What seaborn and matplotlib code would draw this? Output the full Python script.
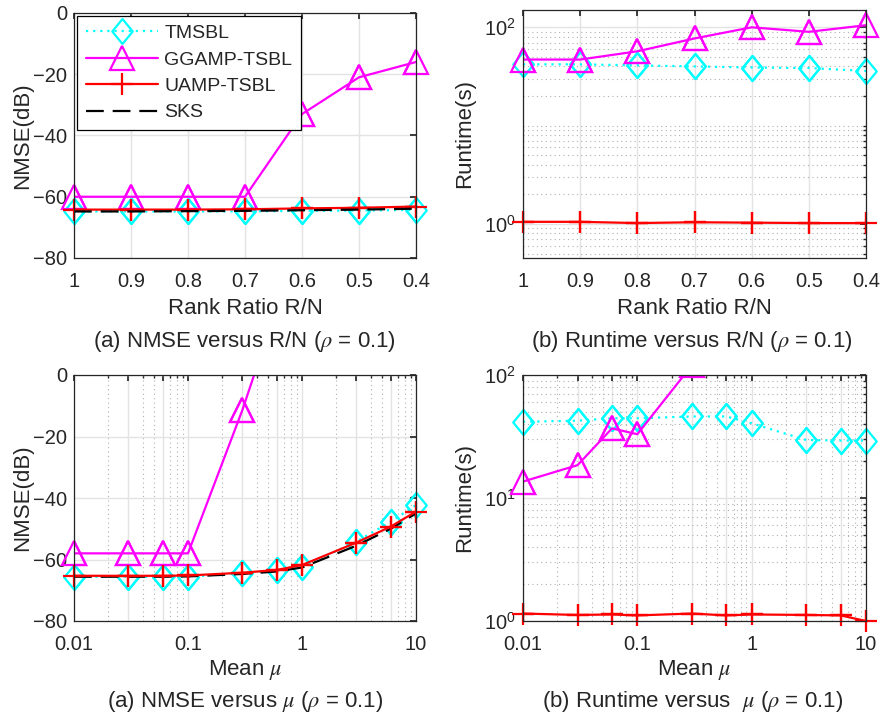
import numpy as np
import pandas as pd
import matplotlib
matplotlib.use("Agg")
import matplotlib.pyplot as plt
import matplotlib.ticker as mticker
from matplotlib.path import Path
import seaborn as sns

# ---------------- data ----------------
rank_ratio = [1.0, 0.9, 0.8, 0.7, 0.6, 0.5, 0.4]
nmse_r_tmsbl = [-64.8, -64.8, -64.8, -64.8, -64.6, -64.5, -64.3]
nmse_r_ggamp = [-60.0, -60.0, -60.0, -60.0, -33.0, -21.0, -16.0]
nmse_r_uamp = [-64.2, -64.2, -64.2, -64.1, -63.8, -63.6, -63.2]
nmse_r_sks = [-64.8, -64.8, -64.7, -64.6, -64.4, -64.2, -63.9]

time_r_tmsbl = [42.0, 42.0, 41.0, 40.0, 39.0, 38.5, 36.0]
time_r_ggamp = [47.0, 47.0, 57.0, 77.0, 100.0, 90.0, 105.0]
time_r_uamp = [1.05, 1.05, 1.02, 1.04, 1.03, 1.02, 1.02]

mu = [0.01, 0.03, 0.06, 0.1, 0.3, 0.6, 1.0, 3.0, 6.0, 10.0]
nmse_m_tmsbl = [-65.6, -65.6, -65.6, -65.6, -64.5, -63.4, -62.5, -54.2, -47.7, -42.3]
nmse_m_uamp = [-65.3, -65.3, -65.3, -65.2, -64.3, -63.4, -61.8, -54.5, -49.3, -44.4]
nmse_m_sks = [-65.6, -65.6, -65.6, -65.5, -64.7, -63.9, -62.6, -55.5, -50.0, -45.0]
mu_gg_nmse = [0.01, 0.03, 0.06, 0.1, 0.3, 0.6]
nmse_m_ggamp = [-58.0, -58.0, -58.0, -58.0, -11.4, 22.0]

time_m_tmsbl = [41.7, 42.5, 44.5, 44.5, 46.0, 46.0, 40.5, 29.6, 29.3, 29.3]
time_m_uamp = [1.15, 1.12, 1.13, 1.11, 1.15, 1.11, 1.13, 1.12, 1.11, 1.0]
mu_gg_time = [0.01, 0.03, 0.06, 0.1, 0.3]
time_m_ggamp = [13.6, 18.5, 36.8, 33.0, 120.0]

labels = ["TMSBL", "GGAMP-TSBL", "UAMP-TSBL", "SKS"]

# ---------------- style ----------------
sns.set_theme(style="white")
plt.rcParams["font.family"] = ["Liberation Sans", "DejaVu Sans"]
plt.rcParams["mathtext.fontset"] = "stix"
plt.rcParams["mathtext.default"] = "regular"
FS_TICK = 14.5
FS_LAB = 16
FS_LEG = 14
TXT = "#262626"

W, H = 880, 717
fig = plt.figure(figsize=(W / 100, H / 100), dpi=100)


def ax_at(l, t, r, b):
    return fig.add_axes([l / W, 1 - b / H, (r - l) / W, (b - t) / H])


ax_tl = ax_at(74, 13, 416, 258)
ax_tr = ax_at(523, 10, 866, 258)
ax_bl = ax_at(74, 375, 416, 621)
ax_br = ax_at(523, 375, 866, 621)

LIMS = {ax_tl: (-80, 0), ax_tr: (0.45, 150), ax_bl: (-80, 0), ax_br: (1, 100)}

diamond = Path([(0, 1), (0.82, 0), (0, -1), (-0.82, 0), (0, 1)],
               [Path.MOVETO, Path.LINETO, Path.LINETO, Path.LINETO, Path.CLOSEPOLY])

styles = {
    "TMSBL": dict(color=(0, 1, 1), linestyle=(0, (1, 2.2)), marker=diamond, markersize=18),
    "GGAMP-TSBL": dict(color=(1, 0, 1), linestyle="-", marker="^", markersize=17),
    "UAMP-TSBL": dict(color=(1, 0, 0), linestyle="-", marker="+", markersize=16),
    "SKS": dict(color="black", linestyle=(0, (8, 4)), marker=None),
}


def draw(ax, x, y, name):
    st = dict(styles[name])
    color = st.pop("color")
    df = pd.DataFrame({"x": x, "y": y})
    sns.lineplot(data=df, x="x", y="y", ax=ax, color=color, linewidth=1.6,
                 markerfacecolor="none", markeredgecolor=color, markeredgewidth=1.6,
                 label=name, sort=False, estimator=None, **st)
    if st.get("marker") is not None:
        lo, hi = LIMS[ax]
        dfin = df[(df["y"] >= lo) & (df["y"] <= hi)]
        sns.lineplot(data=dfin, x="x", y="y", ax=ax, color=color, linestyle="none",
                     marker=st["marker"], markersize=st["markersize"],
                     markerfacecolor="none", markeredgecolor=color, markeredgewidth=1.6,
                     sort=False, estimator=None, clip_on=False, legend=False)


draw(ax_tl, rank_ratio, nmse_r_tmsbl, "TMSBL")
draw(ax_tl, rank_ratio, nmse_r_ggamp, "GGAMP-TSBL")
draw(ax_tl, rank_ratio, nmse_r_uamp, "UAMP-TSBL")
draw(ax_tl, rank_ratio, nmse_r_sks, "SKS")

draw(ax_tr, rank_ratio, time_r_tmsbl, "TMSBL")
draw(ax_tr, rank_ratio, time_r_ggamp, "GGAMP-TSBL")
draw(ax_tr, rank_ratio, time_r_uamp, "UAMP-TSBL")

draw(ax_bl, mu, nmse_m_tmsbl, "TMSBL")
draw(ax_bl, mu_gg_nmse, nmse_m_ggamp, "GGAMP-TSBL")
draw(ax_bl, mu, nmse_m_sks, "SKS")
draw(ax_bl, mu, nmse_m_uamp, "UAMP-TSBL")

draw(ax_br, mu, time_m_tmsbl, "TMSBL")
draw(ax_br, mu_gg_time, time_m_ggamp, "GGAMP-TSBL")
draw(ax_br, mu, time_m_uamp, "UAMP-TSBL")


def common(ax):
    for s in ax.spines.values():
        s.set_color(TXT)
        s.set_linewidth(0.9)
        s.set_visible(True)
    ax.tick_params(axis="both", which="both", direction="in", colors=TXT,
                   labelsize=FS_TICK, top=True, right=True)
    ax.tick_params(which="major", length=4)
    ax.tick_params(which="minor", length=2)
    ax.tick_params(axis="x", which="major", pad=10)
    ax.tick_params(axis="y", which="major", pad=5)
    ax.set_axisbelow(True)
    ax.set_xlabel("")
    ax.set_ylabel("")


for ax in (ax_tl, ax_tr, ax_bl, ax_br):
    common(ax)
    if ax.get_legend() is not None:
        ax.get_legend().remove()

MAJ = dict(color="#e3e3e3", linewidth=1.0, linestyle="-")
MIN = dict(color="#b0b0b0", linewidth=0.8, linestyle=(0, (1, 3)))

# top-left
ax_tl.set_xlim(1.0, 0.4)
ax_tl.set_xticks(rank_ratio)
ax_tl.set_xticklabels(["1", "0.9", "0.8", "0.7", "0.6", "0.5", "0.4"])
ax_tl.set_ylim(*LIMS[ax_tl])
ax_tl.set_yticks([-80, -60, -40, -20, 0])
ax_tl.grid(True, which="major", **MAJ)

# top-right
ax_tr.set_yscale("log")
ax_tr.set_xlim(1.0, 0.4)
ax_tr.set_xticks(rank_ratio)
ax_tr.set_xticklabels(["1", "0.9", "0.8", "0.7", "0.6", "0.5", "0.4"])
ax_tr.set_ylim(*LIMS[ax_tr])
ax_tr.yaxis.set_major_locator(mticker.FixedLocator([1, 100]))
ax_tr.yaxis.set_major_formatter(mticker.FixedFormatter([r"$10^0$", r"$10^2$"]))
ax_tr.yaxis.set_minor_locator(mticker.LogLocator(base=10, subs=np.arange(1, 10), numticks=20))
ax_tr.yaxis.set_minor_formatter(mticker.NullFormatter())
ax_tr.grid(True, which="major", **MAJ)
ax_tr.grid(True, axis="y", which="minor", **MIN)

# bottom
for ax in (ax_bl, ax_br):
    ax.set_xscale("log")
    ax.set_xlim(0.01, 10)
    ax.xaxis.set_major_locator(mticker.FixedLocator(mu))
    ax.xaxis.set_major_formatter(mticker.FixedFormatter(
        ["0.01", "", "", "0.1", "", "", "1", "", "", "10"]))
    ax.xaxis.set_minor_locator(mticker.LogLocator(base=10, subs=np.arange(2, 10), numticks=20))
    ax.xaxis.set_minor_formatter(mticker.NullFormatter())
    ax.grid(True, which="major", **MAJ)
    ax.grid(True, axis="x", which="minor", **MIN)

ax_bl.set_ylim(*LIMS[ax_bl])
ax_bl.set_yticks([-80, -60, -40, -20, 0])

ax_br.set_yscale("log")
ax_br.set_ylim(*LIMS[ax_br])
ax_br.yaxis.set_major_locator(mticker.FixedLocator([1, 10, 100]))
ax_br.yaxis.set_major_formatter(mticker.FixedFormatter([r"$10^0$", r"$10^1$", r"$10^2$"]))
ax_br.yaxis.set_minor_locator(mticker.LogLocator(base=10, subs=np.arange(2, 10), numticks=20))
ax_br.yaxis.set_minor_formatter(mticker.NullFormatter())
ax_br.grid(True, axis="y", which="minor", **MIN)

# y labels (x given as right edge of the rotated label, pixels)
for ax, lab, xr in ((ax_tl, "NMSE(dB)", 33), (ax_tr, "Runtime(s)", 475),
                    (ax_bl, "NMSE(dB)", 33), (ax_br, "Runtime(s)", 475)):
    ax.set_ylabel(lab, fontsize=FS_LAB, color=TXT)
    pos = ax.get_position()
    ax.yaxis.set_label_coords((xr / W - pos.x0) / pos.width, 0.5)

# legend
h, l = ax_tl.get_legend_handles_labels()
leg = ax_tl.legend(h, l, loc="upper left", bbox_to_anchor=(0.0, 1.0), fontsize=FS_LEG,
                   frameon=True, fancybox=False, edgecolor="black", framealpha=1,
                   handlelength=3.7, borderpad=0.45, labelspacing=0.45, handletextpad=0.35,
                   borderaxespad=0.15)
leg.get_frame().set_linewidth(0.9)
for t in leg.get_texts():
    t.set_color(TXT)


# x labels / captions
def ftxt(x, y, s):
    fig.text(x / W, 1 - y / H, s, ha="center", va="center", fontsize=FS_LAB, color=TXT)


ftxt(245, 308, "Rank Ratio R/N")
ftxt(694, 308, "Rank Ratio R/N")
ftxt(244, 342, r"(a) NMSE versus R/N ($\mathit{\rho}$ = 0.1)")
ftxt(692, 342, r"(b) Runtime versus R/N ($\mathit{\rho}$ = 0.1)")
ftxt(245, 670, r"Mean $\mathit{\mu}$")
ftxt(694, 670, r"Mean $\mathit{\mu}$")
ftxt(245, 701, r"(a) NMSE versus $\mathit{\mu}$ ($\mathit{\rho}$ = 0.1)")
ftxt(693, 701, r"(b) Runtime versus  $\mathit{\mu}$ ($\mathit{\rho}$ = 0.1)")

fig.savefig("out.png", dpi=100)
